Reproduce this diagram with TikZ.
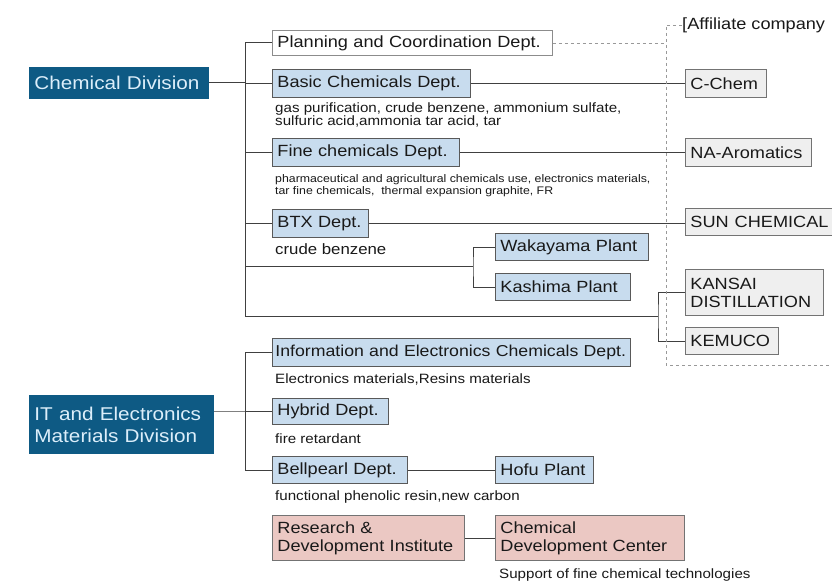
\documentclass[tikz,border=0pt]{standalone}
\usepackage{fontspec}
\setmainfont{Liberation Sans}[FakeStretch=1.12]
\usepackage{xcolor}
\usetikzlibrary{positioning}
\definecolor{divblue}{HTML}{0E5A84}
\definecolor{divtext}{HTML}{DCEEFA}
\definecolor{deptblue}{HTML}{C8DCEE}
\definecolor{labpink}{HTML}{EBC8C3}
\definecolor{affgray}{HTML}{EFEFEF}
\newcommand{\boxfont}{\fontsize{16.2}{18}\selectfont}
\newcommand{\divfont}{\fontsize{18.5}{22}\selectfont}
\newcommand{\notefont}{\fontsize{13.5}{13}\selectfont}
\newcommand{\notesmall}{\fontsize{11}{12}\selectfont}
\newcommand{\notelarge}{\fontsize{15}{16}\selectfont}

\begin{document}
\begin{tikzpicture}[
  x=1pt, y=-1pt,
  box/.style={draw=black!65, line width=0.9pt, anchor=north west, align=left,
              inner xsep=5pt, inner ysep=0pt, font=\boxfont, text=black!90},
  wh/.style 2 args={text width=#1, minimum height=#2},
  div/.style={box, draw=divblue, fill=divblue, text=divtext, font=\divfont},
  dept/.style={box, fill=deptblue},
  plain/.style={box, fill=white, draw=black!45},
  aff/.style={box, fill=affgray, draw=black!55},
  lab/.style={box, fill=labpink, draw=black!55},
  note/.style={font=\notefont, align=left, inner sep=0pt, text=black!90},
  line/.style={draw=black!75, line width=0.9pt},
  aline/.style={draw=black!40, dashed, line width=0.8pt}
]
\useasboundingbox (0,0) rectangle (832,583);
\fill[white] (0,0) rectangle (832,583);
% divisions
\node[div, wh={169pt}{31pt}] (chem) at (29,67) {Chemical Division};
\node[div, wh={174pt}{58pt}] (itdiv) at (29,395) {IT and Electronics\\Materials Division};
% chemical division departments
\node[plain, wh={270pt}{25pt}] (plan) at (272,30) {Planning and Coordination Dept.};
\node[dept, wh={188pt}{28pt}] (basic) at (272,69) {Basic Chemicals Dept.};
\node[dept, wh={177pt}{28pt}] (fine) at (272,138) {Fine chemicals Dept.};
\node[dept, wh={86pt}{28pt}] (btx) at (272,209) {BTX Dept.};
\node[dept, wh={143pt}{27pt}] (waka) at (495,233) {Wakayama Plant};
\node[dept, wh={125pt}{27pt}] (kashima) at (495,273) {Kashima Plant};
% IT and electronics departments
\node[dept, inner xsep=3pt, font=\fontsize{15.8}{18}\selectfont, wh={352pt}{28pt}] (info) at (272,338)
  {\mbox{Information and Electronics Chemicals Dept.}};
\node[dept, wh={106pt}{26pt}] (hybrid) at (272,398) {Hybrid Dept.};
\node[dept, wh={125pt}{27pt}] (bell) at (272,456) {Bellpearl Dept.};
\node[dept, wh={88pt}{27pt}] (hofu) at (495,456) {Hofu Plant};
% research
\node[lab, wh={182pt}{45pt}] (rdi) at (272,515) {Research \&\\Development Institute};
\node[lab, wh={179pt}{45pt}] (cdc) at (495,515) {Chemical\\Development Center};
% affiliate companies
\node[anchor=west, inner sep=0pt, font=\boxfont, text=black!90] (affl) at (682,25) {[Affiliate company};
\node[aff, wh={71pt}{28pt}] (cchem) at (685,69) {C-Chem};
\node[aff, wh={116pt}{28pt}] (naaro) at (685,138) {NA-Aromatics};
\node[aff, wh={160pt}{27pt}] (sun) at (685,208) {SUN\hspace{6pt}CHEMICAL};
\node[aff, wh={128pt}{46pt}] (kansai) at (685,269) {KANSAI\\DISTILLATION};
\node[aff, wh={83pt}{27pt}] (kemuco) at (685,327) {KEMUCO};
% notes
\node[note, below right=5pt and 3pt of basic.south west] (basicnote)
  {gas purification, crude benzene, ammonium sulfate,\\sulfuric acid,ammonia tar acid, tar};
\node[note, font=\notesmall, below right=7pt and 3pt of fine.south west] (finenote)
  {pharmaceutical and agricultural chemicals use, electronics materials,\\tar fine chemicals,\ \ thermal expansion graphite, FR};
\node[note, font=\notelarge, below right=6pt and 3pt of btx.south west] (btxnote) {crude benzene};
\node[note, below right=7pt and 3pt of info.south west] (infonote) {Electronics materials,Resins materials};
\node[note, below right=9pt and 3pt of hybrid.south west] (hybridnote) {fire retardant};
\node[note, below right=7pt and 3pt of bell.south west] (bellnote) {functional phenolic resin,new carbon};
\node[note, below right=8pt and 4pt of cdc.south west] (cdcnote) {Support of fine chemical technologies};
% connectors
\coordinate (chembot) at (245,316);
\coordinate (plantfork) at (473,266);
\coordinate (affork) at (658,316);
\coordinate (ittrunk) at (245,0);
\coordinate (affcorner) at (666,25);
\coordinate (affend) at (850,365);
\draw[line] (plan.west) -| (chembot) -- (affork);
\foreach \n in {basic,fine,btx}
  \draw[line] (\n.west) -- (\n.west -| chembot);
\draw[line] (chem.east) -- (chem.east -| chembot);
\draw[line] (plantfork -| chembot) -- (plantfork);
\draw[line] (waka.west) -| (plantfork) |- (kashima.west);
\draw[line] (kansai.west) -| (affork) |- (kemuco.west);
\draw[line] (basic.east) -- (cchem.west);
\draw[line] (fine.east) -- (naaro.west);
\draw[line] (btx.east) -- (btx.east -| sun.west);
\draw[line] (info.west) -| (ittrunk |- bell.west) -- (bell.west);
\draw[line] (hybrid.west) -- (hybrid.west -| ittrunk);
\draw[line, draw=black!50] (itdiv.east |- hybrid.west) -- (hybrid.west -| ittrunk);
\draw[line] (bell.east) -- (hofu.west);
\draw[line] (rdi.east) -- (cdc.west);
% affiliate frame
\draw[aline] (plan.east) -- (plan.east -| affcorner);
\draw[aline] (affl.west) -- (affcorner) |- (affend);
\end{tikzpicture}
\end{document}
